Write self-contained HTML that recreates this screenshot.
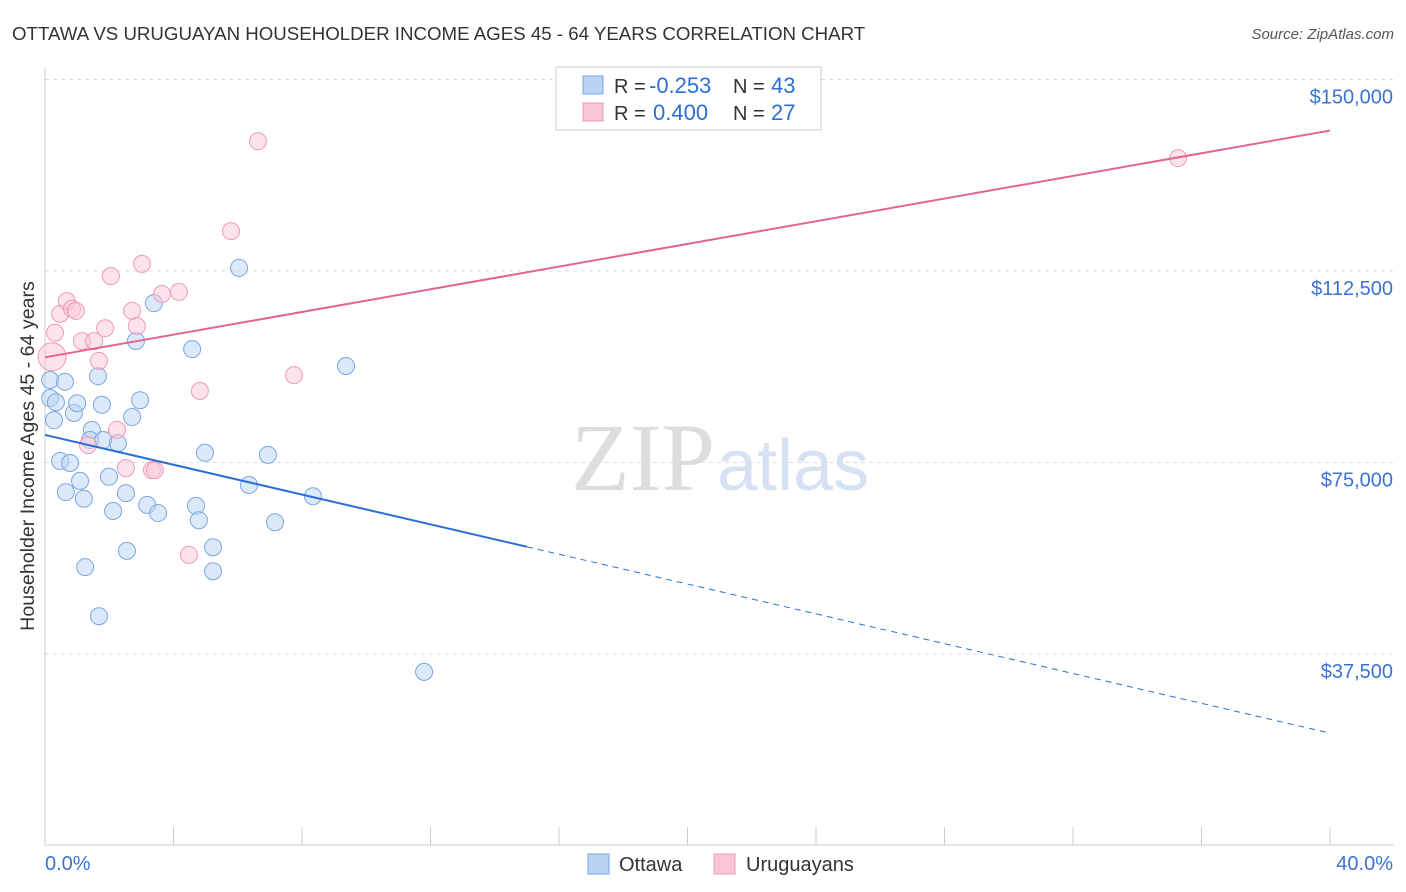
<!DOCTYPE html>
<html><head><meta charset="utf-8"><style>
body{margin:0;background:#fff;font-family:"Liberation Sans",sans-serif;}
#wrap{position:relative;width:1406px;height:892px;overflow:hidden;}
</style></head><body>
<div id="wrap">
<svg id="svg" width="1406" height="892" xmlns="http://www.w3.org/2000/svg">
<text x="12" y="40" font-size="18.7" fill="#333">OTTAWA VS URUGUAYAN HOUSEHOLDER INCOME AGES 45 - 64 YEARS CORRELATION CHART</text>
<text x="1394" y="39" font-size="15" fill="#555" font-style="italic" text-anchor="end">Source: ZipAtlas.com</text>
<text x="715" y="490" font-size="96" fill="#ddd" text-anchor="end" font-family="Liberation Serif">ZIP</text>
<text x="717" y="490" font-size="72" fill="#d6e2f3">atlas</text>
<text transform="translate(34,456) rotate(-90)" font-size="19.6" fill="#333" text-anchor="middle">Householder Income Ages 45 - 64 years</text>
<g id="grid"></g><g id="marks"></g>
<rect x="556" y="67" width="265" height="63" fill="#fff" stroke="#ccc"/>
<rect x="583" y="76" width="20" height="18" fill="#b9d3f5" stroke="#7aa6e0"/>
<rect x="583" y="103" width="20" height="18" fill="#f9c6d6" stroke="#ec9ab4"/>
<text x="614" y="93" font-size="20" fill="#333">R = </text>
<text x="649" y="93" font-size="22" fill="#2d6fd6">-0.253</text>
<text x="733" y="93" font-size="20" fill="#333">N = </text>
<text x="771" y="93" font-size="22" fill="#2d6fd6">43</text>
<text x="614" y="120" font-size="20" fill="#333">R = </text>
<text x="653" y="120" font-size="22" fill="#2d6fd6">0.400</text>
<text x="733" y="120" font-size="20" fill="#333">N = </text>
<text x="771" y="120" font-size="22" fill="#2d6fd6">27</text>
<rect x="588" y="854" width="21" height="20" fill="#b9d3f5" stroke="#7aa6e0"/>
<text x="619" y="871" font-size="20" fill="#333">Ottawa</text>
<rect x="714" y="854" width="21" height="20" fill="#f9c6d6" stroke="#ec9ab4"/>
<text x="746" y="871" font-size="20" fill="#333">Uruguayans</text>
<text x="45" y="870" font-size="20" fill="#3a73d0">0.0%</text>
<text x="1393" y="870" font-size="20" fill="#3a73d0" text-anchor="end">40.0%</text>
</svg></div>
<script>
const yTicks=[37500,75000,112500,150000];
const yTickLabels=["$37,500","$75,000","$112,500","$150,000"];
const ottawaX=[0.16,0.62,0.16,0.34,0.28,0.90,1.0,0.47,0.78,0.65,1.09,1.21,1.46,1.40,1.81,2.27,1.77,1.65,2.71,2.96,2.83,3.39,1.99,2.52,2.12,3.18,3.52,2.55,1.25,1.68,4.58,4.98,4.70,4.79,5.23,5.23,6.04,6.35,6.94,7.16,8.34,9.37,11.80];
const ottawaY=[91150,90800,87600,86800,83300,84700,86600,75300,74900,69200,71400,67900,81400,79400,79400,78800,86300,91900,83900,87200,98800,106200,72200,69000,65500,66700,65100,57700,54500,44900,97200,76900,66500,63700,58400,53700,113100,70600,76500,63300,68400,93900,34000];
const uruX=[0.22,0.31,0.47,0.68,0.84,0.96,2.05,3.02,2.71,1.87,2.86,1.15,1.53,1.68,1.34,2.24,2.52,3.33,3.42,3.64,4.17,4.82,4.48,5.79,6.63,7.75,35.27];
const uruY=[95700,100400,104100,106600,105100,104700,111500,113900,104700,101300,101700,98800,98800,94900,78400,81400,73900,73500,73500,108000,108400,89000,56900,120300,137900,92100,134600];
const ottawaTrend=[80400,-1460]; // intercept, slope per %
const uruTrend=[95600,1110];
const NS="http://www.w3.org/2000/svg";
const xs=v=>45+v*1285/40, ys=v=>845.5-v*191.5/37500;
function mk(t,a,p){const e=document.createElementNS(NS,t);for(const k in a)e.setAttribute(k,a[k]);p.appendChild(e);return e;}
const g=document.getElementById('grid'),m=document.getElementById('marks');
yTicks.forEach((v,i)=>{
 const l=mk('line',{x1:45,x2:1394,y1:ys(v),y2:ys(v),stroke:'#ddd','stroke-dasharray':'4,4'},g);
 
 
 const t=mk('text',{x:1393,y:ys(v)+24,'font-size':20,fill:'#3a73d0','text-anchor':'end'},g);
 t.textContent=yTickLabels[i];
 
 
});
const ax=mk('line',{x1:45,x2:45,y1:68,y2:845,stroke:'#ccc'},g);


const bx=mk('line',{x1:45,x2:1394,y1:845,y2:845,stroke:'#ccc'},g);


for(let i=1;i<=10;i++){const tk=mk('line',{x1:xs(i*4),x2:xs(i*4),y1:827,y2:845,stroke:'#ccc'},g);
 
 }
function dots(X,Y,fill,stroke,name){X.forEach((x,i)=>{const r=(name=='uruguayans-point'&&i==0)?14:8.5;
 const c=mk('circle',{cx:xs(x),cy:ys(Y[i]),r:r,fill:fill,stroke:stroke,'stroke-width':1,'fill-opacity':0.5},m);
 
 });}
dots(ottawaX,ottawaY,'#b9d3f5','#7aa6e0','ottawa-point');
dots(uruX,uruY,'#f9c6d6','#ee9ab6','uruguayans-point');
const tr=(a,x)=>a[0]+a[1]*x;
const b1=mk('line',{x1:xs(0),y1:ys(tr(ottawaTrend,0)),x2:xs(15),y2:ys(tr(ottawaTrend,15)),stroke:'#2a6fd6','stroke-width':2},m);


const b2=mk('line',{x1:xs(15),y1:ys(tr(ottawaTrend,15)),x2:xs(40),y2:ys(tr(ottawaTrend,40)),stroke:'#2a6fd6','stroke-width':1,'stroke-dasharray':'6,5'},m);


const p1=mk('line',{x1:xs(0),y1:ys(tr(uruTrend,0)),x2:xs(40),y2:ys(tr(uruTrend,40)),stroke:'#e5648e','stroke-width':2},m);


</script>
</body></html>
